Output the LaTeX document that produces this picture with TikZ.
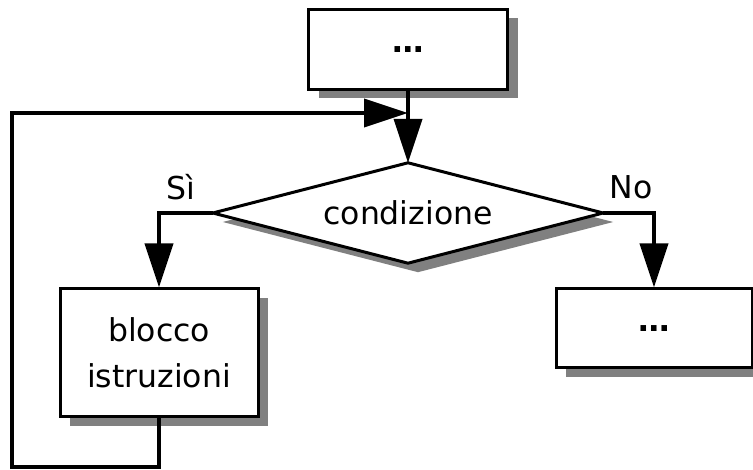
\documentclass[tikz,border=0pt]{standalone}
\usepackage{fontspec}
\setmainfont{DejaVu Sans}
\usetikzlibrary{arrows.meta,shadows}
\begin{document}
\begin{tikzpicture}[x=1pt,y=-1pt,
  shade/.style={drop shadow={shadow xshift=10pt,shadow yshift=-9pt,fill=black!50,opacity=1}},
  boxnode/.style={draw=black,line width=3pt,fill=white,shade,rectangle,inner sep=0pt,
    font=\fontsize{31.5}{46}\selectfont,align=center},
  dianode/.style={rectangle,inner sep=0pt,font=\fontsize{31.5}{36}\selectfont},
  conn/.style={line width=4pt,-{Triangle[length=44pt,width=28pt]}},
  lbl/.style={font=\fontsize{31.5}{36}\selectfont,inner sep=0pt}]
\useasboundingbox (0,0) rectangle (753,470);
\node[boxnode,minimum width=199pt,minimum height=80pt] (top) at (408,49.5) {\textbf{…}};
\node[dianode,minimum width=390pt,minimum height=100pt] (dia) at (408,213) {};
\fill[black!50] ([shift={(10,9)}]dia.west) -- ([shift={(10,9)}]dia.north) -- ([shift={(10,9)}]dia.east) -- ([shift={(10,9)}]dia.south) -- cycle;
\draw[line width=3pt,fill=white,line join=miter] (dia.west) -- (dia.north) -- (dia.east) -- (dia.south) -- cycle;
\node[dianode] (diatext) at (dia.center) {condizione};
\node[boxnode,minimum width=198pt,minimum height=128pt] (left) at (159,353) {blocco\\istruzioni};
\node[boxnode,minimum width=196pt,minimum height=79pt] (right) at (654,328.5) {\textbf{…}};
\coordinate (join) at (408,113);
\coordinate (c1) at (159,467);
\coordinate (c2) at (12,467);
\coordinate (c3) at (12,113);
\draw[conn] (top.south) -- (dia.north);
\draw[line width=4pt,line join=miter] (left.south) -- (c1) -- (c2) -- (c3) -- ([xshift=-30pt]join);
\draw[conn] (c3) -- (join);
\draw[conn,line join=miter] (dia.west) -| (left.north);
\draw[conn,line join=miter] (dia.east) -| (right.north);
\node[lbl] (si) at (181,187) {Sì};
\node[lbl] (no) at (631,187) {No};
\end{tikzpicture}
\end{document}
